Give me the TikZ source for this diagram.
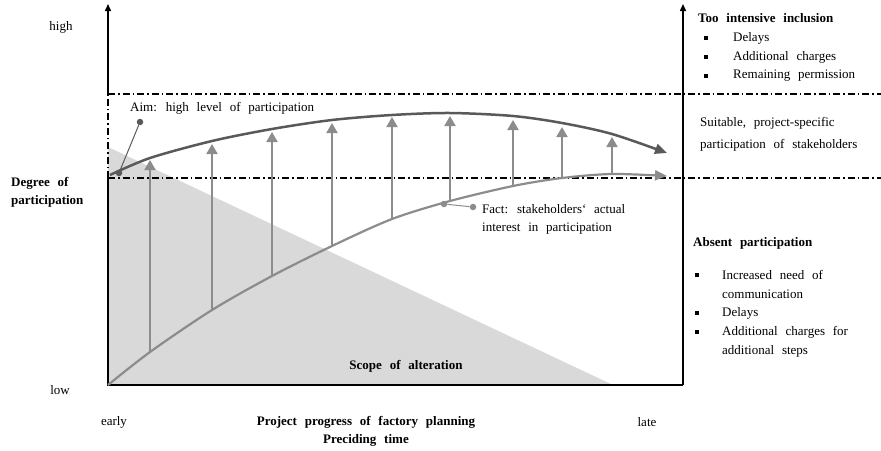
\documentclass[tikz,border=0pt]{standalone}
\usepackage{fontspec}
\setmainfont{Liberation Serif}
\usetikzlibrary{arrows.meta}
\definecolor{aimgray}{HTML}{595959}
\definecolor{factgray}{HTML}{8C8C8C}
\definecolor{scopegray}{HTML}{D9D9D9}
\newcommand{\chartfont}{\fontsize{13}{15}\selectfont\spaceskip=0.6em plus 0.1em\relax}
\begin{document}
\begin{tikzpicture}[x=1pt,y=-1pt,
    every node/.style={font=\chartfont,inner sep=0pt},
    txt/.style={anchor=west},
    hd/.style={anchor=west,font=\chartfont\bfseries},
    bold/.style={font=\chartfont\bfseries},
    sq/.style={fill=black,minimum size=3.5pt,inner sep=0pt},
    axis/.style={line width=1.5pt,-{Triangle[width=6pt,length=7pt]}},
    band/.style={line width=1.2pt,dash pattern=on 7pt off 3pt on 1.5pt off 3pt},
    lift/.style={factgray,line width=2pt,-{Triangle[width=11pt,length=10pt]}},
    pinline/.style={line width=1pt},
    pindot/.style={circle,fill,minimum size=6.5pt}]

    \useasboundingbox (0,0) rectangle (881,450);

    % scope of alteration
    \fill[scopegray] (108,147) -- (613,385) -- (108,385) -- cycle;

    % axes and bands
    \coordinate (o) at (108,385);
    \coordinate (ytop) at (108,4);
    \coordinate (xend) at (683,385);
    \coordinate (rtop) at (683,4);
    \coordinate (hiL) at (108,94);
    \coordinate (hiR) at (881,94);
    \coordinate (loL) at (108,178);
    \coordinate (loR) at (881,178);
    \draw[band] (hiL) -- (hiR);
    \draw[band] (loL) -- (loR);
    \draw[band] (loL) -- (hiL);
    \draw[axis] (hiL) -- (ytop);
    \draw[line width=1.5pt] (loL) -- (o) -- (xend);
    \draw[axis] (xend) -- (rtop);

    % lifts from fact to aim
    \foreach \i/\x/\yb/\yt in {1/150/353/160, 2/212/310/144, 3/272/277/132,
        4/332/247/123, 5/392/219/117, 6/450/202/116, 7/513/186/120,
        8/562/178/127, 9/612/175/137} {
        \coordinate (f\i) at (\x,\yb);
        \coordinate (a\i) at (\x,\yt);
        \draw[lift] (f\i) -- (a\i);
    }

    % curves
    \draw[factgray,line width=2.2pt,-{Triangle[width=10pt,length=12pt]}]
        plot[smooth] coordinates {(108,385) (150,352) (212,310) (272,276)
        (332,246) (392,219) (450,201) (513,186) (562,178) (612,174) (667,176)};
    \draw[aimgray,line width=2.5pt,-{Triangle[width=10pt,length=12pt]}]
        plot[smooth] coordinates {(110,175) (150,158) (212,141) (272,129)
        (332,120) (392,115) (450,113) (513,116) (562,123) (612,134) (667,153)};

    % pins
    \node[pindot,aimgray] (aimon) at (119,173) {};
    \node[pindot,aimgray] (aimtag) at (140,122) {};
    \draw[pinline,aimgray] (aimon) -- (aimtag);
    \node[pindot,factgray] (facton) at (444,204) {};
    \node[pindot,factgray] (facttag) at (473,207) {};
    \draw[pinline,factgray] (facton) -- (facttag);

    % labels
    \node (high) at (61,27) {high};
    \node (low) at (60,390) {low};
    \node[hd] (degree) at (11,183) {Degree of};
    \node[hd] (degree2) at (11,201) {participation};
    \node (early) at (114,422) {early};
    \node (late) at (647,422) {late};
    \node[bold] (progress) at (366,422) {Project progress of factory planning};
    \node[bold] (preciding) at (366,440) {Preciding time};
    \node[bold] (scope) at (406,366) {Scope of alteration};
    \node[txt] (aim) at (130,108) {Aim: high level of participation};
    \node[txt] (fact) at (482,209) {Fact: stakeholders‘ actual};
    \node[txt] (fact2) at (482,229) {interest in participation};

    % right side
    \node[hd] (toomuch) at (698,18) {Too intensive inclusion};
    \foreach \y/\t in {38/Delays, 57/Additional charges, 76/Remaining permission} {
        \node[sq] at (706,\y) {};
        \node[txt] at (733,\y) {\t};
    }
    \node[txt] (suit) at (700,123) {Suitable, project-specific};
    \node[txt] (suit2) at (700,145) {participation of stakeholders};
    \node[hd] (absent) at (693,243) {Absent participation};
    \foreach \y in {275,313,332} {
        \node[sq] at (697,\y) {};
    }
    \node[txt] at (722,275) {Increased need of};
    \node[txt] at (722,294) {communication};
    \node[txt] at (722,313) {Delays};
    \node[txt] at (722,332) {Additional charges for};
    \node[txt] at (722,351) {additional steps};
\end{tikzpicture}
\end{document}
